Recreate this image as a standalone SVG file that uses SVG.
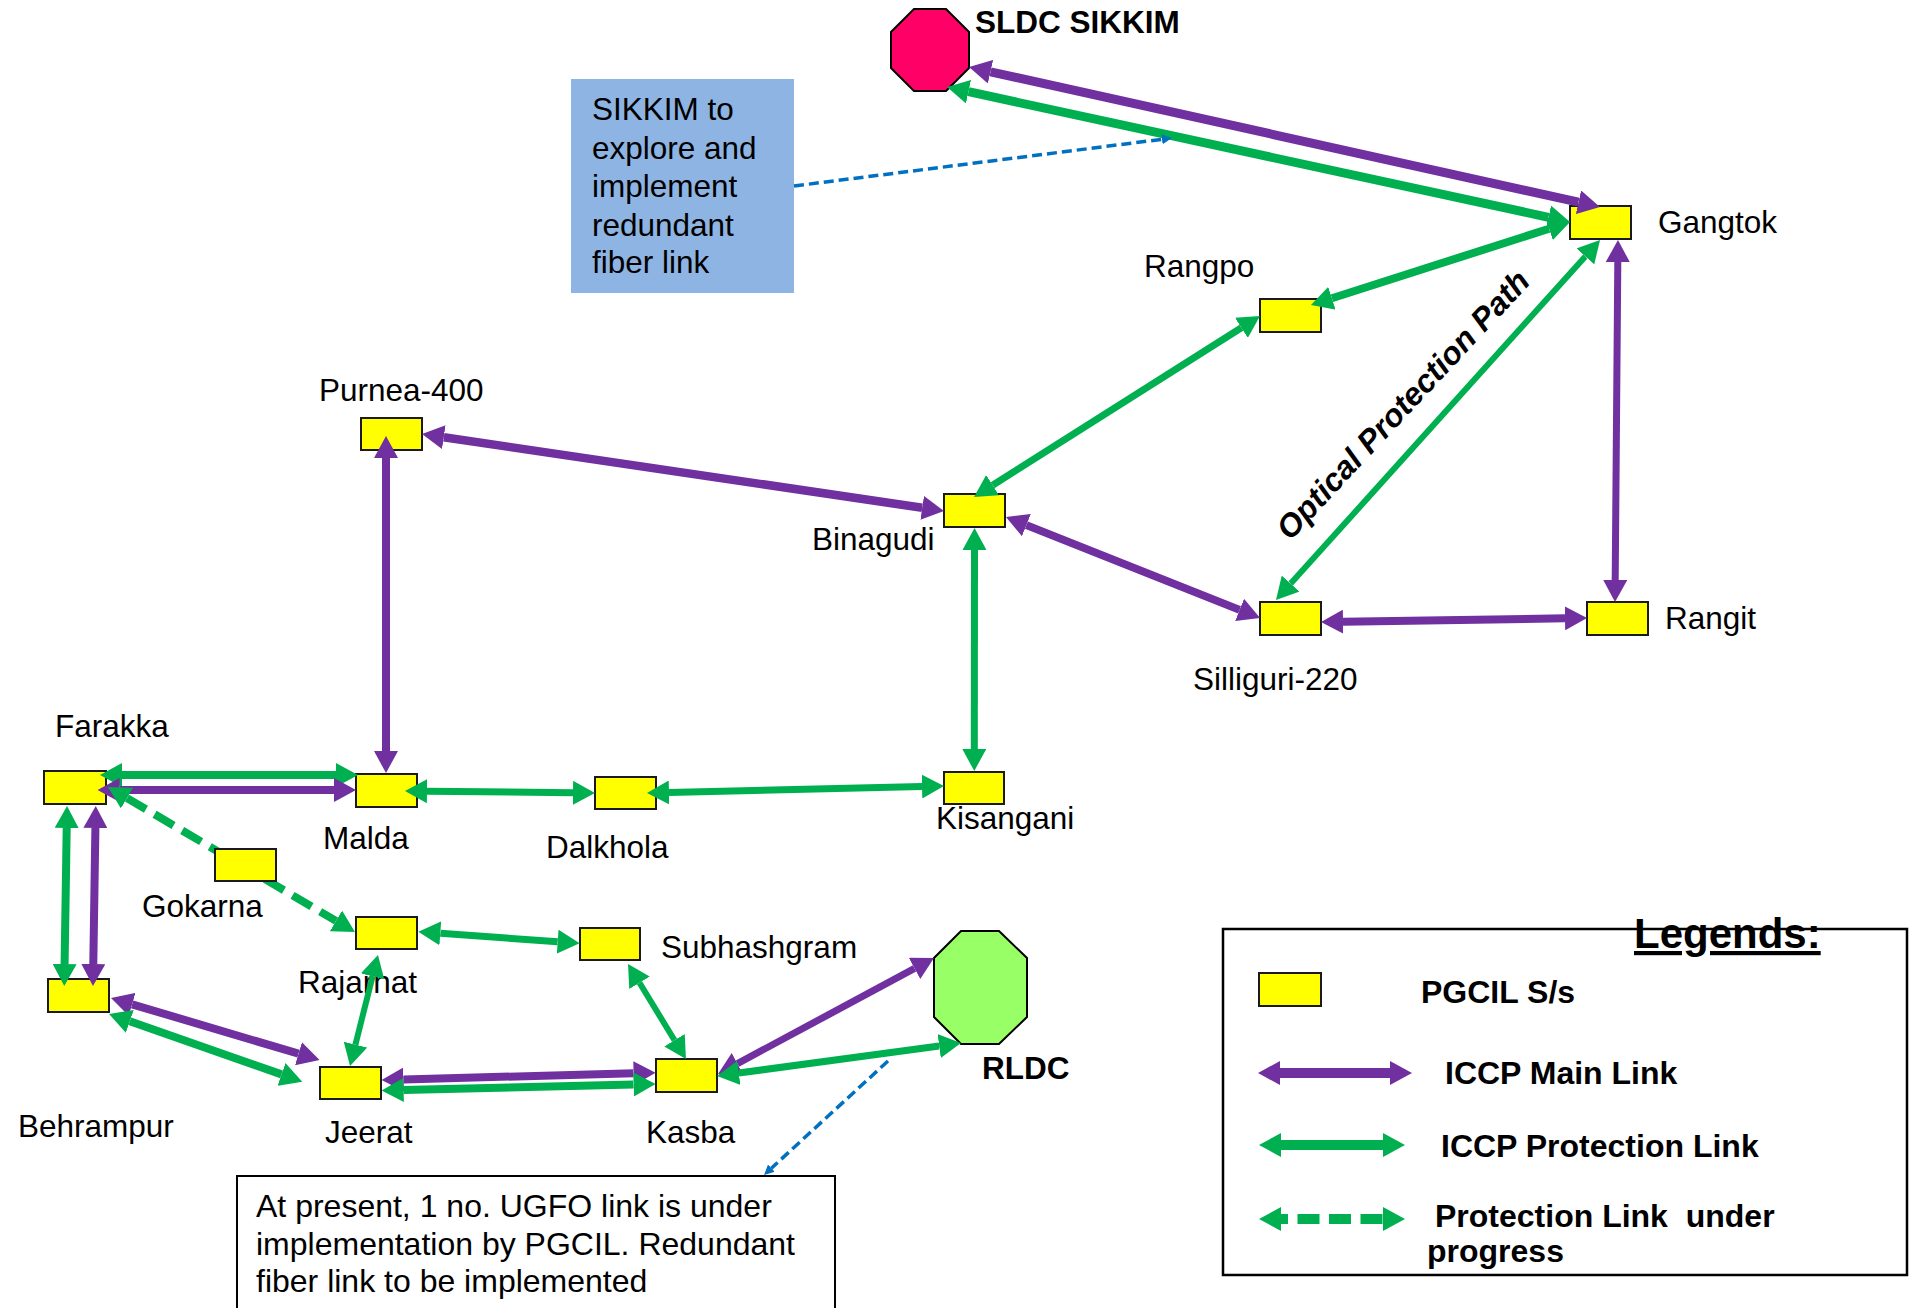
<svg xmlns="http://www.w3.org/2000/svg" width="1911" height="1308" viewBox="0 0 1911 1308">
<style>
.box{fill:#FFFF00;stroke:#1a1a1a;stroke-width:2}
.t{font-family:"Liberation Sans",Arial,sans-serif;font-size:31.5px;fill:#000}
.b{font-weight:bold}
.lg{font-family:"Liberation Sans",Arial,sans-serif;font-size:32px;font-weight:bold;fill:#000;white-space:pre}
.p{stroke:#7030A0;fill:none;marker-start:url(#aP);marker-end:url(#aP)}
.g{stroke:#00B050;fill:none;marker-start:url(#aG);marker-end:url(#aG)}
.bl{stroke:#0070C0;stroke-width:3.5;stroke-dasharray:10 5;fill:none;marker-end:url(#aB)}
</style>
<defs>
<marker id="aP" viewBox="0 0 22 24" refX="0" refY="12" markerWidth="22" markerHeight="24" markerUnits="userSpaceOnUse" orient="auto-start-reverse"><path d="M0,0 L22,12 L0,24 z" fill="#7030A0"/></marker>
<marker id="aG" viewBox="0 0 22 24" refX="0" refY="12" markerWidth="22" markerHeight="24" markerUnits="userSpaceOnUse" orient="auto-start-reverse"><path d="M0,0 L22,12 L0,24 z" fill="#00B050"/></marker>
<marker id="aB" viewBox="0 0 10 10" refX="0" refY="5" markerWidth="10" markerHeight="10" markerUnits="userSpaceOnUse" orient="auto"><path d="M0,0 L10,5 L0,10 z" fill="#0070C0"/></marker>
</defs>
<rect width="1911" height="1308" fill="#fff"/>

<g id="nodes">
<g id="sldc"><polygon points="914,9 946,9 969,32 969,68 946,91 914,91 891,68 891,32" fill="#FF0066" stroke="#000" stroke-width="2"/><text class="t b" x="975" y="33">SLDC SIKKIM</text></g>
<g id="rldc"><polygon points="961,931 999,931 1027,958 1027,1017 999,1044 961,1044 934,1017 934,958" fill="#99FF66" stroke="#000" stroke-width="2"/><text class="t b" x="982" y="1079">RLDC</text></g>
<g id="gangtok"><rect class="box" x="1570" y="206" width="61" height="33"/><text class="t" x="1658" y="233">Gangtok</text></g>
<g id="rangpo"><rect class="box" x="1260" y="299" width="61" height="33"/><text class="t" x="1144" y="277">Rangpo</text></g>
<g id="binagudi"><rect class="box" x="944" y="494" width="61" height="33"/><text class="t" x="812" y="550">Binagudi</text></g>
<g id="purnea"><rect class="box" x="361" y="418" width="61" height="32"/><text class="t" x="319" y="401">Purnea-400</text></g>
<g id="silliguri"><rect class="box" x="1260" y="602" width="61" height="33"/><text class="t" x="1193" y="690">Silliguri-220</text></g>
<g id="rangit"><rect class="box" x="1587" y="602" width="61" height="33"/><text class="t" x="1665" y="629">Rangit</text></g>
<g id="farakka"><rect class="box" x="44" y="771" width="62" height="33"/><text class="t" x="55" y="737">Farakka</text></g>
<g id="malda"><rect class="box" x="356" y="774" width="61" height="33"/><text class="t" x="323" y="849">Malda</text></g>
<g id="dalkhola"><rect class="box" x="595" y="777" width="61" height="32"/><text class="t" x="546" y="858">Dalkhola</text></g>
<g id="kisangani"><rect class="box" x="944" y="772" width="60" height="32"/><text class="t" x="936" y="829">Kisangani</text></g>
<g id="rajarhat"><rect class="box" x="356" y="917" width="61" height="32"/><text class="t" x="298" y="993">Rajarhat</text></g>
<g id="subhashgram"><rect class="box" x="580" y="928" width="60" height="32"/><text class="t" x="661" y="958">Subhashgram</text></g>
<g id="behrampur"><rect class="box" x="48" y="979" width="61" height="33"/><text class="t" x="18" y="1137">Behrampur</text></g>
<g id="jeerat"><rect class="box" x="320" y="1067" width="61" height="32"/><text class="t" x="325" y="1143">Jeerat</text></g>
<g id="kasba"><rect class="box" x="656" y="1059" width="61" height="33"/><text class="t" x="646" y="1143">Kasba</text></g>
<g id="note-sikkim"><rect x="571" y="79" width="223" height="214" fill="#8EB4E3"/>
<text class="t" x="592" y="120">SIKKIM to</text><text class="t" x="592" y="159">explore and</text><text class="t" x="592" y="197">implement</text><text class="t" x="592" y="236">redundant</text><text class="t" x="592" y="273">fiber link</text></g>
<g id="note-ugfo"><rect x="237" y="1176" width="598" height="200" fill="#fff" stroke="#000" stroke-width="2"/>
<text class="t" x="256" y="1216.5" style="font-size:32px">At present, 1 no. UGFO link is under</text>
<text class="t" x="256" y="1254.5" style="font-size:32px">implementation by PGCIL. Redundant</text>
<text class="t" x="256" y="1292" style="font-size:32px">fiber link to be implemented</text></g>
</g>

<g id="connectors">
<line class="p" x1="990.5" y1="71.8" x2="1578.5" y2="202.2" stroke-width="9"/>
<line class="g" x1="968.5" y1="91.7" x2="1548.5" y2="217.3" stroke-width="9"/>
<line class="g" x1="1549.1" y1="228.7" x2="1331.9" y2="298.3" stroke-width="8"/>
<line class="g" x1="1241.4" y1="327.8" x2="992.6" y2="485.2" stroke-width="7"/>
<line class="g" x1="1585.3" y1="256.4" x2="1290.7" y2="583.6" stroke-width="6"/>
<line class="p" x1="1617.8" y1="262" x2="1615.2" y2="580" stroke-width="7"/>
<line class="p" x1="1343" y1="621.7" x2="1565" y2="618.3" stroke-width="8"/>
<line class="p" x1="1026.4" y1="525.1" x2="1239.6" y2="609.9" stroke-width="8"/>
<line class="p" x1="443.8" y1="437.2" x2="922.2" y2="507.8" stroke-width="8.5"/>
<line class="g" x1="974.5" y1="550" x2="974.3" y2="749" stroke-width="7"/>
<line class="p" x1="386" y1="458" x2="386" y2="751" stroke-width="8"/>
<line class="g" x1="122" y1="775" x2="336" y2="775" stroke-width="8"/>
<line class="p" x1="119.6" y1="790" x2="334" y2="790" stroke-width="8"/>
<line class="g" x1="427" y1="791.2" x2="573" y2="792.8" stroke-width="7"/>
<line class="g" x1="669" y1="792.5" x2="922" y2="786.5" stroke-width="7"/>
<line class="g" x1="66.7" y1="828" x2="64.6" y2="964" stroke-width="8"/>
<line class="p" x1="95.4" y1="828" x2="93.3" y2="964" stroke-width="8"/>
<line class="g" x1="127" y1="798.1" x2="336" y2="920.9" stroke-width="8" stroke-dasharray="22 10"/>
<line class="p" x1="132.1" y1="1004.3" x2="298.5" y2="1053.7" stroke-width="8"/>
<line class="g" x1="129.8" y1="1021.3" x2="281.5" y2="1074.4" stroke-width="8"/>
<line class="g" x1="372.6" y1="976.3" x2="355.4" y2="1044.7" stroke-width="6"/>
<line class="g" x1="440.3" y1="933.3" x2="557.7" y2="941.7" stroke-width="7"/>
<line class="g" x1="639.5" y1="982.8" x2="674.5" y2="1040.2" stroke-width="6"/>
<line class="p" x1="403.6" y1="1079.4" x2="633.6" y2="1073.3" stroke-width="8"/>
<line class="g" x1="403.6" y1="1090" x2="633.6" y2="1084.5" stroke-width="8"/>
<line class="p" x1="737.4" y1="1063.6" x2="914.6" y2="968.4" stroke-width="7"/>
<line class="g" x1="738.8" y1="1073" x2="939.2" y2="1046" stroke-width="7"/>
<line class="bl" x1="794" y1="186" x2="1162" y2="139.3"/>
<line class="bl" x1="888" y1="1061" x2="771.4" y2="1168.2"/>
<text class="t b" transform="translate(1411,412) rotate(-47)" text-anchor="middle" style="font-style:italic;font-size:32px">Optical Protection Path</text>
</g>

<g id="gokarna"><rect class="box" x="215" y="849" width="61" height="32"/><text class="t" x="142" y="917">Gokarna</text></g>

<g id="legend">
<rect x="1223" y="929" width="684" height="346" fill="none" stroke="#000" stroke-width="2.5"/>
<text class="lg" x="1634" y="948" style="font-size:42px;text-decoration:underline">Legends:</text>
<rect class="box" x="1259" y="973" width="62" height="33"/>
<text class="lg" x="1421" y="1003">PGCIL S/s</text>
<line class="p" x1="1280" y1="1073" x2="1390" y2="1073" stroke-width="10"/>
<text class="lg" x="1445" y="1084">ICCP Main Link</text>
<line class="g" x1="1281" y1="1145" x2="1383" y2="1145" stroke-width="10"/>
<text class="lg" x="1441" y="1157">ICCP Protection Link</text>
<line class="g" x1="1281" y1="1219" x2="1383" y2="1219" stroke-width="10" stroke-dasharray="22 9.5" stroke-dashoffset="15"/>
<text class="lg" x="1435" y="1227">Protection Link  under</text>
<text class="lg" x="1427" y="1262">progress</text>
</g>
</svg>
